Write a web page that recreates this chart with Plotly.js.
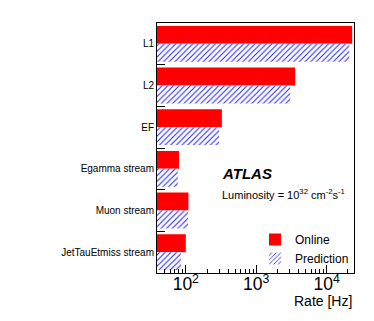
<!DOCTYPE html>
<html>
<head>
<meta charset="utf-8">
<script src="https://cdn.plot.ly/plotly-3.0.1.min.js"></script>
<style>
  html, body { margin: 0; padding: 0; background: white; }
  #chart { width: 374px; height: 321px; }
</style>
</head>
<body>
<div id="chart"></div>
<script>
// Trigger rates per level / stream (Hz).
const categories = ["L1", "L2", "EF", "Egamma stream", "Muon stream", "JetTauEtmiss stream"];
const onlineRate = [23000, 3570, 325, 80, 109, 100];
const predictedRate = [20900, 3030, 296, 77, 107, 85];

const FONT = "Liberation Sans, Arial, Helvetica, sans-serif";

const traces = [
  {
    type: "bar", orientation: "h", name: "Online",
    y: categories, x: onlineRate,
    marker: { color: "#ff0000", line: { width: 0 } },
  },
  {
    type: "bar", orientation: "h", name: "Prediction",
    y: categories, x: predictedRate,
    marker: {
      color: "white", line: { width: 0 },
      pattern: { shape: "/", fgcolor: "#2020ff", bgcolor: "white", size: 4, solidity: 0.25 },
    },
  },
];

const layout = {
  width: 374, height: 321,
  margin: { l: 157, r: 20, t: 23, b: 48 },
  paper_bgcolor: "white", plot_bgcolor: "white",
  font: { family: FONT, color: "black", size: 10 },
  barmode: "group", bargap: 0.14, bargroupgap: 0,
  showlegend: true,
  legend: {
    x: 1.0, y: 0.0, xanchor: "right", yanchor: "bottom",
    font: { size: 12, family: FONT }, bgcolor: "rgba(0,0,0,0)",
    traceorder: "normal",
  },
  xaxis: {
    type: "log", range: [Math.log10(39), Math.log10(24400)],
    dtick: 1, exponentformat: "power", automargin: false,
    ticks: "inside", ticklen: 8, tickcolor: "black", ticklabelstandoff: -4,
    minor: { ticks: "inside", ticklen: 4, tickcolor: "black" },
    showgrid: false, zeroline: false,
    showline: true, linecolor: "black", linewidth: 1, mirror: true,
    tickfont: { size: 14, family: FONT },
  },
  yaxis: {
    type: "category", autorange: "reversed", automargin: false,
    tickson: "boundaries", ticks: "inside", ticklen: 8, tickcolor: "black",
    showgrid: false, zeroline: false,
    showline: true, linecolor: "black", linewidth: 1, mirror: true,
    tickfont: { size: 10, family: FONT },
  },
  annotations: [
    {
      xref: "paper", yref: "paper", x: 1, y: -0.11, xanchor: "right", yanchor: "middle",
      text: "Rate [Hz]", showarrow: false, font: { size: 14, family: FONT },
    },
    {
      xref: "paper", yref: "paper", x: 0.32, y: 0.40, xanchor: "left", yanchor: "middle",
      text: "<b><i>ATLAS</i></b>", showarrow: false, font: { size: 15, family: FONT },
    },
    {
      xref: "paper", yref: "paper", x: 0.32, y: 0.315, xanchor: "left", yanchor: "middle",
      text: "Luminosity = 10<sup>32</sup> cm<sup>-2</sup>s<sup>-1</sup>", showarrow: false,
      font: { size: 11, family: FONT },
    },
  ],
};

Plotly.newPlot("chart", traces, layout, { displayModeBar: false, staticPlot: true });
</script>
</body>
</html>
